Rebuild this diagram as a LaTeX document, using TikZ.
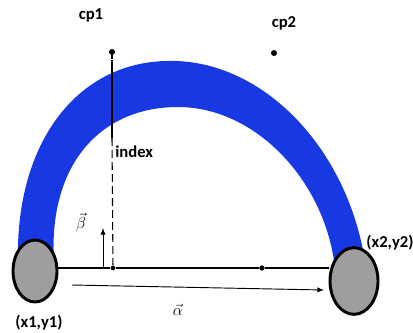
\documentclass[tikz,border=0pt]{standalone}
\usepackage{fontspec}
\setmainfont{Carlito}
\usetikzlibrary{arrows.meta,shapes.geometric}
\definecolor{bandblue}{RGB}{24,56,226}
\definecolor{endgray}{RGB}{158,158,158}
\tikzset{
  lbl/.style={font=\fontsize{12.5}{14}\selectfont\bfseries, inner sep=0pt},
  mathlbl/.style={font=\fontsize{13}{14}\selectfont, inner sep=0pt},
  endcap/.style={ellipse, draw=black, line width=2.2pt, fill=endgray, inner sep=0pt},
  ctrlpt/.style={circle, fill=black, inner sep=0pt, minimum size=4.5pt},
  vec/.style={-{Latex[length=5pt,width=4pt]}, line width=0.7pt},
}
\begin{document}
\begin{tikzpicture}[x=0.75pt,y=-0.75pt]
\useasboundingbox (0,0) rectangle (413,332);
% blue band
\fill[bandblue] (18,262) .. controls (15,140) and (80,58) .. (175,61)
  .. controls (265,63) and (350,150) .. (366,268)
  -- (335,268) .. controls (325,180) and (255,107) .. (178,107)
  .. controls (100,107) and (48,165) .. (54,262) -- cycle;
% control points
\node[ctrlpt] (cp1) at (112,52) {};
\node[ctrlpt] (cp2) at (274,53) {};
\node[lbl] (cp1l) at (91,15) {cp1};
\node[lbl] (cp2l) at (284,23) {cp2};
% end caps
\node[endcap, minimum width=33pt, minimum height=46.5pt] (L) at (35,271) {};
\node[endcap, minimum width=36pt, minimum height=50pt] (R) at (354,281) {};
\node[lbl] (p1) at (39,323) {(x1,y1)};
\node[lbl] (p2) at (390,243) {(x2,y2)};
% base line
\node[ctrlpt, minimum size=3.5pt] (base) at (113,268) {};
\node[ctrlpt, minimum size=4pt] (mid) at (262,268) {};
\draw[line width=0.9pt] (L.east |- base) -- (base) -- (mid) -- (R.west |- base);
% index line
\coordinate (idx0) at (112,60);
\coordinate (idx) at (112,138);
\draw[line width=0.8pt, dash pattern=on 3pt off 2pt] (cp1) -- (idx0);
\draw[line width=0.8pt] (idx0) -- (idx);
\draw[line width=0.8pt, dash pattern=on 6pt off 3pt] (idx) -- (base);
\node[lbl, anchor=west] (index) at (115,152) {index};
% beta
\coordinate (b0) at (103,268);
\coordinate (b1) at (103,228);
\draw[vec] (b0) -- (b1);
\node[mathlbl] (beta) at (81,222) {$\vec{\beta}$};
% alpha
\coordinate (a0) at (72,285);
\coordinate (a1) at (324,290);
\draw[vec] (a0) -- (a1);
\node[mathlbl] (alpha) at (178,310) {$\vec{\alpha}$};
\end{tikzpicture}
\end{document}
